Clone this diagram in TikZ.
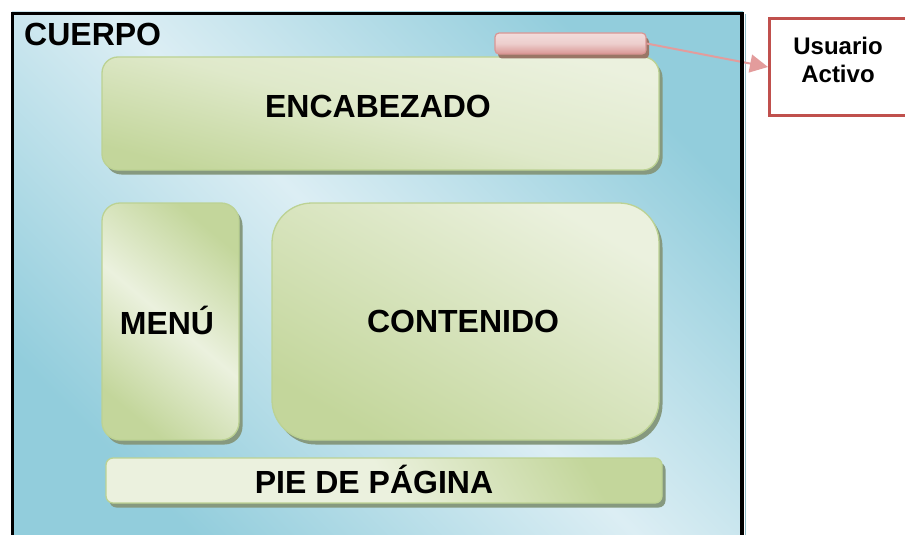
\documentclass[tikz,border=0pt]{standalone}
\usepackage{fontspec}
\setmainfont{Liberation Sans}
\usetikzlibrary{arrows.meta,shadows}
\definecolor{bluelight}{HTML}{DCEEF4}
\definecolor{bluedark}{HTML}{92CDDC}
\definecolor{greenlight}{HTML}{EBF1DE}
\definecolor{greendark}{HTML}{C3D69B}
\definecolor{greenborder}{HTML}{BCD293}
\definecolor{greenshadow}{HTML}{86997F}
\definecolor{pinklight}{HTML}{F2DCDB}
\definecolor{pinkdark}{HTML}{D99694}
\definecolor{pinkshadow}{HTML}{9A7666}
\definecolor{arrowpink}{HTML}{E39C9C}
\definecolor{boxred}{HTML}{C0504D}
\tikzset{
  gbox/.style={draw=greenborder, line width=1.3pt, inner sep=0pt,
    drop shadow={shadow xshift=3.5pt, shadow yshift=-4.5pt, fill=greenshadow, opacity=1}},
  bigtxt/.style={font=\bfseries\fontsize{32}{38}\selectfont, inner sep=0pt},
  smalltxt/.style={font=\bfseries\fontsize{24}{28}\selectfont, inner sep=0pt, align=center},
}
\begin{document}
\begin{tikzpicture}[x=1pt,y=-1pt]
\useasboundingbox (0,0) rectangle (905,535);
% frame fill
\path[top color=bluedark, bottom color=bluedark, middle color=bluelight, shading angle=-45]
  (12,12) rectangle (743,540);
\draw[line width=1.5pt, draw=bluedark!80!gray] (745.5,14) -- (745.5,540);
% green boxes
\node[gbox, rounded corners=16pt, minimum width=557pt, minimum height=113pt,
  top color=greenlight, bottom color=greendark, middle color=greenlight!70!greendark, shading angle=-15]
  (enc) at (380.5,113.5) {};
\node[gbox, rounded corners=18pt, minimum width=137pt, minimum height=237pt,
  top color=greendark, bottom color=greendark, middle color=greenlight, shading angle=-40]
  (menu) at (170.5,321.5) {};
\node[gbox, rounded corners=40pt, minimum width=387pt, minimum height=237pt,
  top color=greenlight, bottom color=greendark, shading angle=-30]
  (cont) at (465.5,321.5) {};
\node[gbox, rounded corners=7pt, minimum width=556pt, minimum height=45pt,
  top color=greendark, bottom color=greenlight, middle color=greenlight, shading angle=-60]
  (pie) at (384,480.5) {};
% red bar
\node[draw=pinkdark, line width=1.2pt, rounded corners=4pt, inner sep=0pt,
  minimum width=151pt, minimum height=21pt,
  top color=pinklight, bottom color=pinkdark, middle color=pinklight!80!pinkdark,
  drop shadow={shadow xshift=3pt, shadow yshift=-4.5pt, fill=pinkshadow, opacity=1}]
  (bar) at (570.5,43.5) {};
% labels
\node[bigtxt, anchor=west] (cuerpo) at (24,34) {CUERPO};
\node[bigtxt] (enct) at (378,106) {ENCABEZADO};
\node[bigtxt] (menut) at (167,320) {MENÚ};
\node[bigtxt] (contt) at (463,321) {CONTENIDO};
\node[bigtxt] (piet) at (374,479) {PIE DE PÁGINA};
% usuario box
\node[draw=boxred, line width=3pt, fill=white, minimum width=170pt, minimum height=96pt,
  anchor=west, inner sep=0pt] (usr) at (768,67) {};
\node[smalltxt] (usrt) at (838,60) {Usuario\\Activo};
% arrow
\draw[arrowpink, line width=2pt, -{Triangle[length=18pt,width=18pt]}] (bar.east) -- (usr.west);
% frame border
\draw[line width=3.5pt, line cap=rect] (12.5,540) -- (12.5,13.5) -- (742,13.5) -- (742,540);
\end{tikzpicture}
\end{document}
